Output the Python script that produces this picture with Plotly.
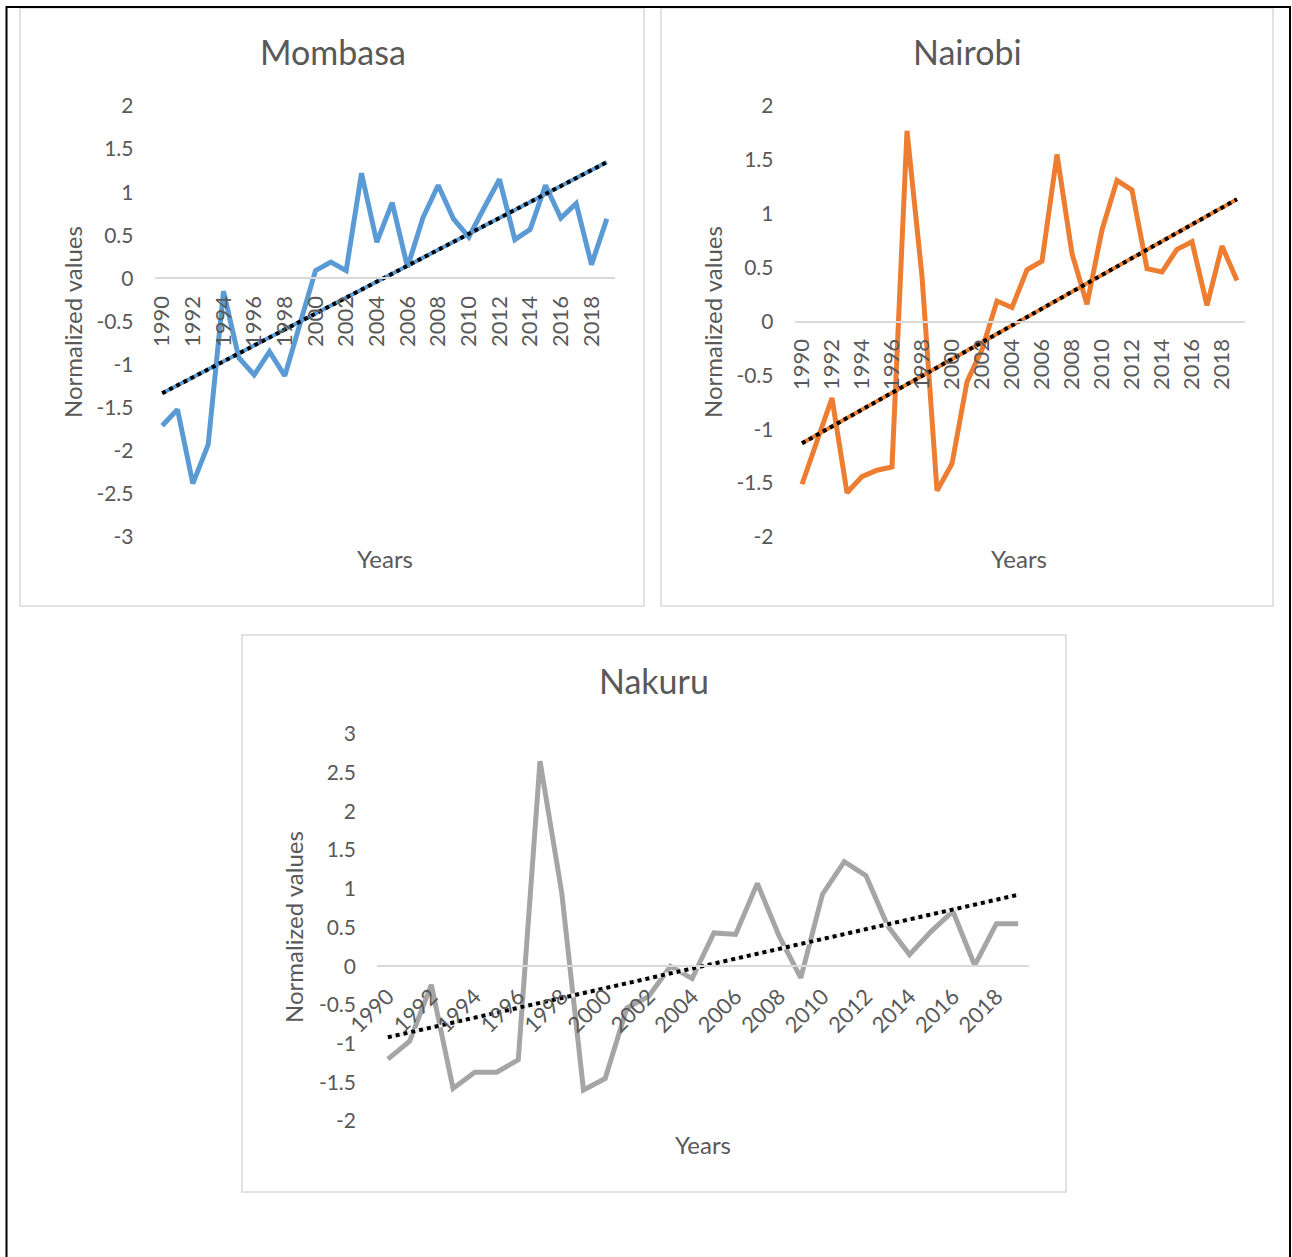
import numpy as np
import plotly.graph_objects as go

years = list(range(1990, 2020))
tick_years = list(range(1990, 2020, 2))
tick_text = [str(y) for y in tick_years]

mombasa = [-1.71, -1.52, -2.38, -1.93, -0.15, -0.92, -1.12, -0.85, -1.13, -0.51,
           0.09, 0.19, 0.09, 1.22, 0.42, 0.88, 0.13, 0.70, 1.08, 0.69,
           0.48, 0.82, 1.15, 0.45, 0.57, 1.08, 0.70, 0.87, 0.16, 0.69]
nairobi = [-1.51, -1.10, -0.71, -1.59, -1.44, -1.38, -1.35, 1.77, 0.42, -1.57,
           -1.32, -0.56, -0.26, 0.19, 0.13, 0.48, 0.56, 1.55, 0.63, 0.16,
           0.85, 1.31, 1.22, 0.49, 0.46, 0.67, 0.74, 0.15, 0.70, 0.38]
nakuru = [-1.20, -0.97, -0.24, -1.58, -1.37, -1.37, -1.21, 2.65, 0.95, -1.60,
          -1.45, -0.54, -0.39, 0.00, -0.16, 0.43, 0.41, 1.07, 0.39, -0.15,
          0.93, 1.35, 1.17, 0.52, 0.15, 0.45, 0.71, 0.01, 0.55, 0.55]

y_tickvals = [[-3, -2.5, -2, -1.5, -1, -0.5, 0, 0.5, 1, 1.5, 2],
              [-2, -1.5, -1, -0.5, 0, 0.5, 1, 1.5, 2],
              [-2, -1.5, -1, -0.5, 0, 0.5, 1, 1.5, 2, 2.5, 3]]
y_ticktext = [["-3", "-2.5", "-2", "-1.5", "-1", "-0.5", "0", "0.5", "1", "1.5", "2"],
              ["-2", "-1.5", "-1", "-0.5", "0", "0.5", "1", "1.5", "2"],
              ["-2", "-1.5", "-1", "-0.5", "0", "0.5", "1", "1.5", "2", "2.5", "3"]]

titles = ["Mombasa", "Nairobi", "Nakuru"]
colors = ["#5B9BD5", "#ED7D31", "#A5A5A5"]
trend_gap_colors = ["#5B9BD5", "#ED7D31", "#EDEDED"]
y_ranges = [[-3, 2], [-2, 2], [-2, 3]]
series = [mombasa, nairobi, nakuru]

W, H = 1292, 1257
def px(x):
    return x / W
def py(y):
    return 1 - y / H

# plot areas in pixels: (left, right, top, bottom)
areas = [(154.5, 614.5, 106, 537), (794.5, 1244.5, 106, 537), (377, 1029, 734, 1121)]
boxes = [(20, 644, 8, 606), (661, 1273, 8, 606), (242, 1066, 635, 1192)]
title_pos = [(333, 52), (967, 52), (654, 680)]
years_pos = [(385, 558), (1019, 558), (703, 1144)]
ylab_pos = [(72, 322), (712, 322), (293, 927)]
xtick_angle = [-90, -90, -45]

TXT = "#595959"
FONT = "Lato"

fig = go.Figure()
layout = {}
shapes = []
annotations = []

for i in range(3):
    n = "" if i == 0 else str(i + 1)
    xa, ya = "x" + n, "y" + n
    l, r, t, b = areas[i]
    xd = [px(l), px(r)]
    yd = [py(b), py(t)]
    ymin, ymax = y_ranges[i]
    zero_pos = yd[0] + (0 - ymin) / (ymax - ymin) * (yd[1] - yd[0])
    vals = series[i]
    fig.add_trace(go.Scatter(x=years, y=vals, mode="lines", xaxis=xa, yaxis=ya,
                             line=dict(color=colors[i], width=5), showlegend=False,
                             hoverinfo="skip"))
    k, c0 = np.polyfit(years, vals, 1)
    tx = [years[0], years[-1]]
    ty = [k * x + c0 for x in tx]
    fig.add_trace(go.Scatter(x=tx, y=ty, mode="lines", xaxis=xa, yaxis=ya,
                             line=dict(color=trend_gap_colors[i], width=4),
                             showlegend=False, hoverinfo="skip"))
    fig.add_trace(go.Scatter(x=tx, y=ty, mode="lines", xaxis=xa, yaxis=ya,
                             line=dict(color="black", width=4, dash="dot"),
                             showlegend=False, hoverinfo="skip"))
    layout["xaxis" + n] = dict(domain=xd, anchor="free", position=zero_pos,
                               range=[years[0] - 0.5, years[-1] + 0.5], automargin=False,
                               tickmode="array", tickvals=tick_years, ticktext=tick_text,
                               tickangle=xtick_angle[i], showgrid=False, zeroline=False,
                               showline=True, linecolor="#D9D9D9", linewidth=1.5,
                               ticks="", ticklabelstandoff=8,
                               tickfont=dict(family=FONT, size=22, color=TXT))
    layout["yaxis" + n] = dict(domain=yd, anchor=xa, range=[ymin, ymax], automargin=False,
                               tickmode="array", tickvals=y_tickvals[i], ticktext=y_ticktext[i],
                               showgrid=False, zeroline=False, showline=False,
                               ticks="", ticklabelstandoff=20,
                               tickfont=dict(family=FONT, size=21, color=TXT))
    bl, br, bt, bb = boxes[i]
    shapes.append(dict(type="rect", xref="paper", yref="paper",
                       x0=px(bl), x1=px(br), y0=py(bb), y1=py(bt),
                       line=dict(color="#D9D9D9", width=1.5), layer="below"))
    annotations.append(dict(text=titles[i], x=px(title_pos[i][0]), y=py(title_pos[i][1]),
                            xref="paper", yref="paper", showarrow=False,
                            xanchor="center", yanchor="middle",
                            font=dict(family=FONT, size=34, color=TXT)))
    annotations.append(dict(text="Years", x=px(years_pos[i][0]), y=py(years_pos[i][1]),
                            xref="paper", yref="paper", showarrow=False,
                            xanchor="center", yanchor="middle",
                            font=dict(family=FONT, size=24, color=TXT)))
    annotations.append(dict(text="Normalized values", x=px(ylab_pos[i][0]), y=py(ylab_pos[i][1]),
                            xref="paper", yref="paper", showarrow=False, textangle=-90,
                            xanchor="center", yanchor="middle",
                            font=dict(family=FONT, size=24, color=TXT)))

# page border
shapes.append(dict(type="line", xref="paper", yref="paper", x0=px(6), x1=px(1291),
                   y0=py(7), y1=py(7), line=dict(color="black", width=2)))
shapes.append(dict(type="line", xref="paper", yref="paper", x0=px(6.5), x1=px(6.5),
                   y0=py(6), y1=0, line=dict(color="black", width=2)))
shapes.append(dict(type="line", xref="paper", yref="paper", x0=px(1290), x1=px(1290),
                   y0=py(6), y1=0, line=dict(color="black", width=2)))

fig.update_layout(template="none", width=W, height=H, margin=dict(l=0, r=0, t=0, b=0, pad=0),
                  paper_bgcolor="white", plot_bgcolor="rgba(0,0,0,0)",
                  shapes=shapes, annotations=annotations, **layout)
fig.write_html("out.html", config={"displayModeBar": False},
               post_script="document.body.style.margin='0';document.body.style.overflow='hidden';")
